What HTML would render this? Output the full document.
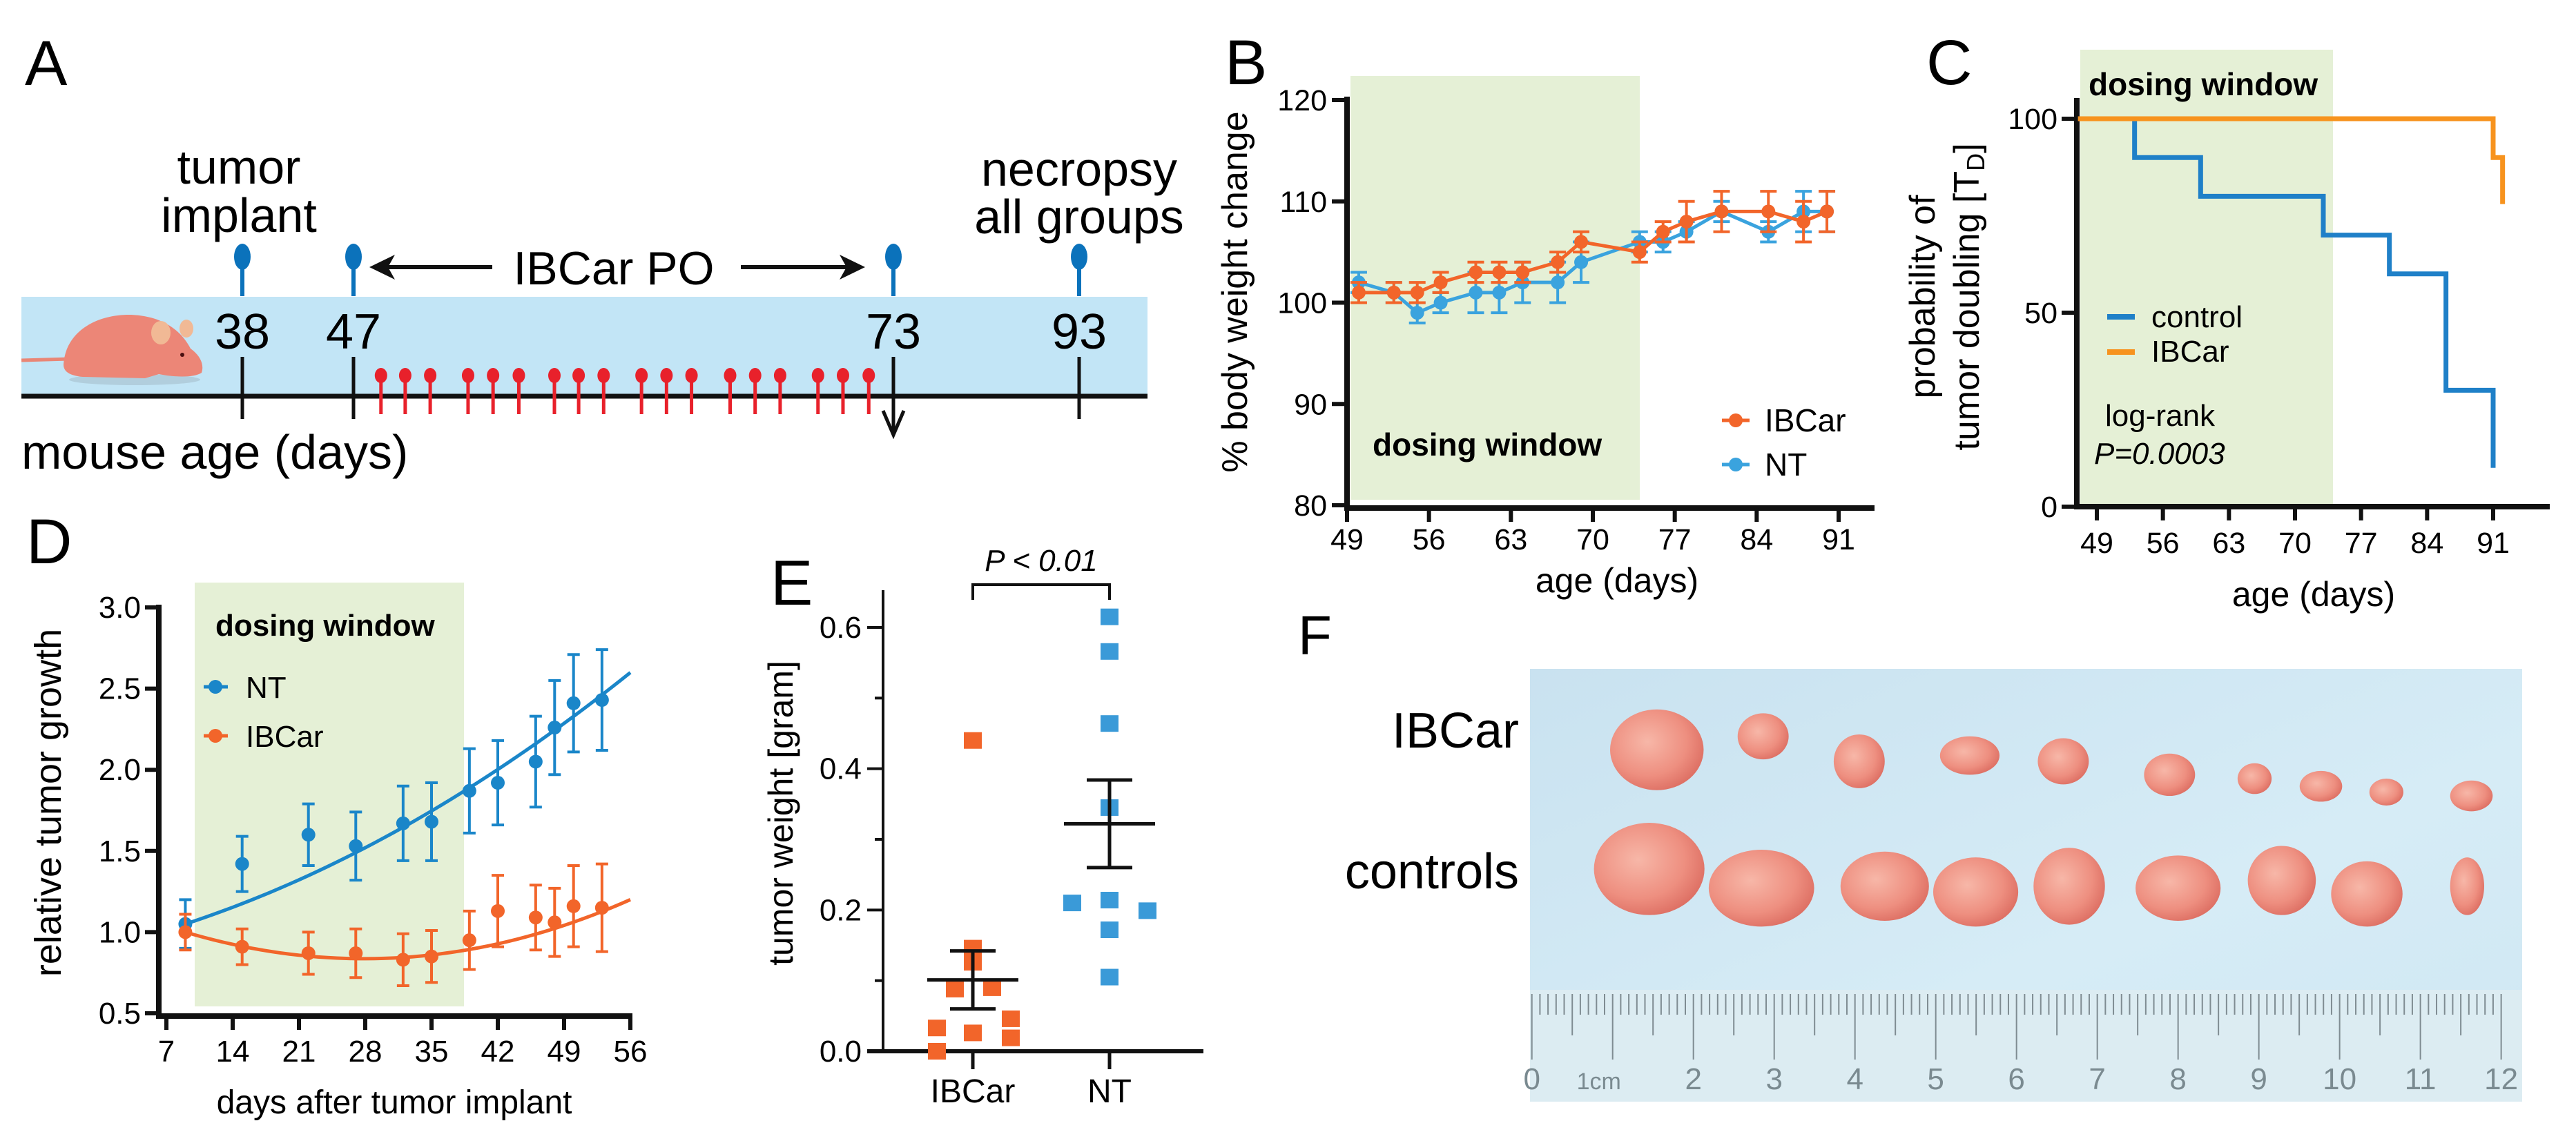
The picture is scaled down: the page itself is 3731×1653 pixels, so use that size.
<!DOCTYPE html>
<html><head><meta charset="utf-8"><style>
html,body{margin:0;padding:0;background:#fff;}
svg{display:block;font-family:"Liberation Sans",Arial,sans-serif;}
</style></head><body>
<svg id="fig" xmlns="http://www.w3.org/2000/svg" width="3731" height="1653" viewBox="0 0 3731 1653">
<defs>
<linearGradient id="photoBg" x1="0" y1="0" x2="1" y2="1"><stop offset="0" stop-color="#c9e2f0"/><stop offset="0.6" stop-color="#d6ecf6"/><stop offset="1" stop-color="#cfe7f3"/></linearGradient>
<radialGradient id="tum" cx="0.4" cy="0.4" r="0.7"><stop offset="0" stop-color="#f7b7a8"/><stop offset="0.6" stop-color="#ee8f80"/><stop offset="1" stop-color="#d9675c"/></radialGradient>
</defs>
<rect width="3731" height="1653" fill="#fff"/>

<g>
<text x="36" y="123" font-size="92">A</text>
<rect x="31" y="430" width="1631" height="144" fill="#c2e5f6"/>
<g>
<path d="M31 522 L100 520" stroke="#e98676" stroke-width="5"/>
<ellipse cx="195" cy="550" rx="95" ry="8" fill="#9fb7c4" opacity="0.5"/>
<path d="M92 528 C95 480 140 455 190 456 C235 458 262 478 276 505 C290 515 296 528 292 540 C280 548 250 546 230 542 L210 548 L120 546 C100 544 92 538 92 528 Z" fill="#ec8677"/>
<ellipse cx="233" cy="482" rx="14" ry="17" fill="#f1b995"/>
<ellipse cx="270" cy="476" rx="10" ry="13" fill="#f1b995"/>
<circle cx="264" cy="514" r="3" fill="#4a1010"/>
</g>
<line x1="31" y1="574" x2="1662" y2="574" stroke="#111" stroke-width="7"/>
<g id="aMarks"></g>
<text x="346" y="266" font-size="70" text-anchor="middle">tumor</text>
<text x="346" y="336" font-size="70" text-anchor="middle">implant</text>
<text x="1563" y="269" font-size="70" text-anchor="middle">necropsy</text>
<text x="1563" y="338" font-size="70" text-anchor="middle">all groups</text>
<text x="889" y="412" font-size="68" text-anchor="middle">IBCar PO</text>
<line x1="548" y1="387" x2="713" y2="387" stroke="#111" stroke-width="6"/>
<path d="M535 387 L572 369 L562 387 L572 405 Z" fill="#111"/>
<line x1="1073" y1="387" x2="1238" y2="387" stroke="#111" stroke-width="6"/>
<path d="M1253 387 L1216 369 L1226 387 L1216 405 Z" fill="#111"/>
<text x="31" y="679" font-size="70">mouse age (days)</text>
</g>

<g id="panelB">
<text x="1774" y="122" font-size="92">B</text>
<rect x="1956" y="110" width="419" height="614" fill="#e5f0d6"/>
<text x="1988" y="660" font-size="46" font-weight="bold">dosing window</text>
<text transform="translate(1806,423) rotate(-90)" font-size="52" text-anchor="middle">% body weight change</text>
<text x="2342" y="858" font-size="50" text-anchor="middle">age (days)</text>
</g>

<g id="panelC">
<text x="2790" y="122" font-size="92">C</text>
<rect x="3013" y="72" width="366" height="660" fill="#e5f0d6"/>
<text x="3025" y="138" font-size="46" font-weight="bold">dosing window</text>
<text transform="translate(2802,430) rotate(-90)" font-size="52" text-anchor="middle">probability of</text>
<text transform="translate(2866,430) rotate(-90)" font-size="52" text-anchor="middle">tumor doubling [T<tspan font-size="36" dy="8">D</tspan><tspan dy="-8">]</tspan></text>
<text x="3351" y="878" font-size="50" text-anchor="middle">age (days)</text>
<line x1="3052" y1="459" x2="3092" y2="459" stroke="#1f80c8" stroke-width="8"/>
<text x="3116" y="474" font-size="44">control</text>
<line x1="3052" y1="510" x2="3092" y2="510" stroke="#f7931e" stroke-width="8"/>
<text x="3116" y="524" font-size="44">IBCar</text>
<text x="3049" y="617" font-size="44">log-rank</text>
<text x="3033" y="672" font-size="44" font-style="italic">P=0.0003</text>
</g>

<g id="panelD">
<text x="38" y="816" font-size="92">D</text>
<rect x="282" y="844" width="390" height="614" fill="#e5f0d6"/>
<text x="312" y="921" font-size="44" font-weight="bold">dosing window</text>
<text transform="translate(88,1163) rotate(-90)" font-size="54" text-anchor="middle">relative tumor growth</text>
<text x="571" y="1613" font-size="48" text-anchor="middle">days after tumor implant</text>
<text x="356" y="1011" font-size="44">NT</text>
<text x="356" y="1082" font-size="44">IBCar</text>
</g>

<g id="panelE">
<text x="1116" y="876" font-size="92">E</text>
<text transform="translate(1148,1178) rotate(-90)" font-size="50" text-anchor="middle">tumor weight [gram]</text>
<path d="M1409 869 L1409 847 L1607 847 L1607 869" fill="none" stroke="#111" stroke-width="4"/>
<text x="1508" y="827" font-size="44" font-style="italic" text-anchor="middle">P &lt; 0.01</text>
</g>

<g id="panelF">
<text x="1880" y="948" font-size="80">F</text>
<text x="2200" y="1083" font-size="72" text-anchor="end">IBCar</text>
<text x="2200" y="1287" font-size="72" text-anchor="end">controls</text>
<rect x="2216" y="969" width="1437" height="627" fill="url(#photoBg)"/>
<rect x="2216" y="1434" width="1437" height="162" fill="#dcecf2"/>
<g id="tumors"></g>
<g id="ruler"></g>
</g>
</svg>
<script>
// ---------- DATA ----------
const aEventDays = [38, 47, 73, 93];
const aEventX = [351, 512, 1294, 1563];
const bDays = [50,53,55,57,60,62,64,67,69,74,76,78,81,85,88,90];
const bIBCar = [101,101,101,102,103,103,103,104,106,105,107,108,109,109,108,109];
const bIBCarErr = [1,1,1,1,1,1,1,1,1,1,1,2,2,2,2,2];
const bNT = [102,101,99,100,101,101,102,102,104,106,106,107,109,107,109,109];
const bNTErr = [1,1,1,1,2,2,2,2,2,1,1,1,1,1,2,2];
const bYTicks = [80,90,100,110,120];
const bXTicks = [49,56,63,70,77,84,91];
const cCtrlT = [47,53,60,73,80,86,91];
const cCtrlV = [100,90,80,70,60,30,10];
const cIbT = [47,91,92];
const cIbV = [100,90,78];
const cYTicks = [0,50,100];
const cXTicks = [49,56,63,70,77,84,91];
const dDays = [9,15,22,27,32,35,39,42,46,48,50,53];
const dNT = [1.05,1.42,1.60,1.53,1.67,1.68,1.87,1.92,2.05,2.26,2.41,2.43];
const dNTErr = [0.15,0.17,0.19,0.21,0.23,0.24,0.26,0.26,0.28,0.29,0.30,0.31];
const dIBCar = [1.00,0.91,0.87,0.87,0.83,0.85,0.95,1.13,1.09,1.06,1.16,1.15];
const dIBCarErr = [0.11,0.11,0.13,0.15,0.16,0.16,0.18,0.22,0.20,0.21,0.25,0.27];
const dNTFit = [0.9015, 0.01385, 0.000294];
const dIBCarFit = [1.1935, -0.02564, 0.00046];
const dYTicks = [0.5,1.0,1.5,2.0,2.5,3.0];
const dXTicks = [7,14,21,28,35,42,49,56];
const eCategories = ['IBCar','NT'];
const eIBCar = [0.44,0.146,0.126,0.088,0.09,0.033,0.026,0.046,0.019,0.0];
const eIBCarJitter = [0,0,0,-26,28,-52,0,55,55,-52];
const eNT = [0.615,0.566,0.464,0.345,0.21,0.214,0.199,0.172,0.105];
const eNTJitter = [0,0,0,0,-54,0,55,0,0];
const eMean = [0.101,0.322];
const eSEM = [0.041,0.062];
const eYTicks = [0,0.2,0.4,0.6];
const eMinorTicks = [0.1,0.3,0.5];

const NS = 'http://www.w3.org/2000/svg';
function mk(parent, tag, attrs, text){
  const el = document.createElementNS(NS, tag);
  for (const k in attrs) el.setAttribute(k, attrs[k]);
  if (text !== undefined) el.textContent = text;
  parent.appendChild(el);
  return el;
}

(function(){
  const g = document.getElementById('aMarks');
  aEventDays.forEach((d,i)=>{
    const x = aEventX[i];
    let el = mk(g,'line',{x1:x,y1:378,x2:x,y2:429,stroke:'#0b72bb','stroke-width':6});
    
    
    el = mk(g,'ellipse',{cx:x,cy:372,rx:12,ry:19,fill:'#0b72bb'});
    
    
    el = mk(g,'line',{x1:x,y1:517,x2:x,y2:607,stroke:'#111','stroke-width':5});
    
    
    el = mk(g,'text',{x:x,y:505,'font-size':72,'text-anchor':'middle'}, String(d));
    
    
  });
  let ar = mk(g,'path',{d:'M1294 600 L1294 625 M1279 595 L1294 630 L1309 595',stroke:'#111','stroke-width':5,fill:'none'});
  
  
  const groups = [503,535,568,618,651,685,732,764,797,847,880,913,964,997,1030,1080,1113,1147];
  groups.forEach(px=>{
    const x = px*1.097;
    let el = mk(g,'line',{x1:x,y1:548,x2:x,y2:600,stroke:'#e8212b','stroke-width':5});
    
    
    el = mk(g,'ellipse',{cx:x,cy:544,rx:9,ry:11,fill:'#e8212b'});
    
    
  });
})();

(function(){
  const g = document.getElementById('panelB');
  const x = d => 1951 + (d-49)*(2663-1951)/42;
  const y = v => 732 - (v-80)*(732-145)/40;
  let el = mk(g,'path',{d:'M1951 140 L1951 736 L2715 736',fill:'none',stroke:'#111','stroke-width':8});
  
  
  bYTicks.forEach(v=>{
    let t = mk(g,'line',{x1:1929,y1:y(v),x2:1951,y2:y(v),stroke:'#111','stroke-width':6});
    
    
    t = mk(g,'text',{x:1922,y:y(v)+15,'font-size':43,'text-anchor':'end'},String(v));
    
    
  });
  bXTicks.forEach(d=>{
    let t = mk(g,'line',{x1:x(d),y1:736,x2:x(d),y2:756,stroke:'#111','stroke-width':6});
    
    
    t = mk(g,'text',{x:x(d),y:796,'font-size':43,'text-anchor':'middle'},String(d));
    
    
  });
  function series(vals, errs, color, name){
    const pts = bDays.map((d,i)=>x(d)+','+y(vals[i])).join(' ');
    let l = mk(g,'polyline',{points:pts,fill:'none',stroke:color,'stroke-width':5});
    
    
    bDays.forEach((d,i)=>{
      const cx = x(d), y1 = y(vals[i]+errs[i]), y2 = y(vals[i]-errs[i]);
      let e = mk(g,'path',{d:`M${cx} ${y1} L${cx} ${y2} M${cx-12} ${y1} L${cx+12} ${y1} M${cx-12} ${y2} L${cx+12} ${y2}`,stroke:color,'stroke-width':4,fill:'none'});
      
      
      e = mk(g,'circle',{cx:cx,cy:y(vals[i]),r:10,fill:color});
      
      
    });
  }
  series(bNT,bNTErr,'#3aa3de','b-nt');
  series(bIBCar,bIBCarErr,'#f2652a','b-ibcar');
  [['#f2652a','IBCar',609],['#3aa3de','NT',673]].forEach(([c,lab,yy])=>{
    let e = mk(g,'line',{x1:2494,y1:yy,x2:2534,y2:yy,stroke:c,'stroke-width':5});
    
    
    e = mk(g,'circle',{cx:2514,cy:yy,r:10,fill:c});
    
    
    e = mk(g,'text',{x:2556,y:yy+16,'font-size':46},lab);
    
    
  });
})();

(function(){
  const g = document.getElementById('panelC');
  const x = d => 3037 + (d-49)*(3611-3037)/42;
  const y = v => 734 - v*(734-172)/100;
  let el = mk(g,'path',{d:'M3008 142 L3008 734 L3693 734',fill:'none',stroke:'#111','stroke-width':8});
  
  
  cYTicks.forEach(v=>{
    let t = mk(g,'line',{x1:2986,y1:y(v),x2:3008,y2:y(v),stroke:'#111','stroke-width':6});
    
    
    t = mk(g,'text',{x:2980,y:y(v)+15,'font-size':43,'text-anchor':'end'},String(v));
    
    
  });
  cXTicks.forEach(d=>{
    let t = mk(g,'line',{x1:x(d),y1:734,x2:x(d),y2:754,stroke:'#111','stroke-width':6});
    
    
    t = mk(g,'text',{x:x(d),y:801,'font-size':43,'text-anchor':'middle'},String(d));
    
    
  });
  function step(T,V,color,name){
    let d = `M${x(T[0])} ${y(V[0])}`;
    for (let i=1;i<T.length;i++){ d += ` L${x(T[i])} ${y(V[i-1])} L${x(T[i])} ${y(V[i])}`; }
    const p = mk(g,'path',{d:d,fill:'none',stroke:color,'stroke-width':7});
    
    
  }
  step(cCtrlT,cCtrlV,'#1f80c8','c-control-curve');
  step(cIbT,cIbV,'#f7931e','c-ibcar-curve');
})();

(function(){
  const g = document.getElementById('panelD');
  const x = d => 241 + (d-7)*(913-241)/49;
  const y = v => 1468 - (v-0.5)*(1468-880)/2.5;
  let el = mk(g,'path',{d:'M230 876 L230 1472 L916 1472',fill:'none',stroke:'#111','stroke-width':8});
  
  
  dYTicks.forEach(v=>{
    let t = mk(g,'line',{x1:210,y1:y(v),x2:230,y2:y(v),stroke:'#111','stroke-width':6});
    
    
    t = mk(g,'text',{x:204,y:y(v)+15,'font-size':44,'text-anchor':'end'},v.toFixed(1));
    
    
  });
  dXTicks.forEach(d=>{
    let t = mk(g,'line',{x1:x(d),y1:1472,x2:x(d),y2:1492,stroke:'#111','stroke-width':6});
    
    
    t = mk(g,'text',{x:x(d),y:1538,'font-size':44,'text-anchor':'middle'},String(d));
    
    
  });
  function fit(c,color,name){
    const pts=[];
    for(let d=9; d<=56.01; d+=1){ pts.push(x(d)+','+y(c[0]+c[1]*d+c[2]*d*d)); }
    const p = mk(g,'polyline',{points:pts.join(' '),fill:'none',stroke:color,'stroke-width':5});
    
    
  }
  function pts(vals,errs,color,name){
    dDays.forEach((d,i)=>{
      const cx=x(d), y1=y(vals[i]+errs[i]), y2=y(vals[i]-errs[i]);
      let e = mk(g,'path',{d:`M${cx} ${y1} L${cx} ${y2} M${cx-9} ${y1} L${cx+9} ${y1} M${cx-9} ${y2} L${cx+9} ${y2}`,stroke:color,'stroke-width':4,fill:'none'});
      
      
      e = mk(g,'circle',{cx:cx,cy:y(vals[i]),r:10,fill:color});
      
      
    });
  }
  fit(dNTFit,'#1a86c9','d-nt-fit');
  fit(dIBCarFit,'#f2652a','d-ibcar-fit');
  pts(dNT,dNTErr,'#1a86c9','d-nt');
  pts(dIBCar,dIBCarErr,'#f2652a','d-ibcar');
  [['#1a86c9',995],['#f2652a',1066]].forEach(([c,yy])=>{
    let e = mk(g,'line',{x1:295,y1:yy,x2:330,y2:yy,stroke:c,'stroke-width':5});
    
    
    e = mk(g,'circle',{cx:312,cy:yy,r:10,fill:c});
    
    
  });
})();

(function(){
  const g = document.getElementById('panelE');
  const y = v => 1523 - v*(1523-909)/0.6;
  const cx = [1409,1607];
  let el = mk(g,'line',{x1:1279,y1:855,x2:1279,y2:1523,stroke:'#111','stroke-width':4});
  
  
  el = mk(g,'line',{x1:1256,y1:1523,x2:1743,y2:1523,stroke:'#111','stroke-width':6});
  
  
  eYTicks.forEach(v=>{
    let t = mk(g,'line',{x1:1256,y1:y(v),x2:1279,y2:y(v),stroke:'#111','stroke-width':4});
    
    
    t = mk(g,'text',{x:1248,y:y(v)+15,'font-size':44,'text-anchor':'end'},v.toFixed(1));
    
    
  });
  eMinorTicks.forEach(v=>{
    const t = mk(g,'line',{x1:1267,y1:y(v),x2:1279,y2:y(v),stroke:'#111','stroke-width':4});
    
    
  });
  eCategories.forEach((c,i)=>{
    let t = mk(g,'line',{x1:cx[i],y1:1523,x2:cx[i],y2:1549,stroke:'#111','stroke-width':5});
    
    
    t = mk(g,'text',{x:cx[i],y:1597,'font-size':48,'text-anchor':'middle'},c);
    
    
  });
  function squares(vals,jit,ci,color,name){
    vals.forEach((v,i)=>{
      const s = mk(g,'rect',{x:cx[ci]+jit[i]-13,y:y(v)-12,width:26,height:24,fill:color});
      
      
    });
  }
  squares(eIBCar,eIBCarJitter,0,'#f2652a','e-ibcar-point');
  squares(eNT,eNTJitter,1,'#3a9ad8','e-nt-point');
  eMean.forEach((m,i)=>{
    const c=cx[i], yt=y(m+eSEM[i]), yb=y(m-eSEM[i]);
    const p = mk(g,'path',{d:`M${c-66} ${y(m)} L${c+66} ${y(m)} M${c} ${yt} L${c} ${yb} M${c-33} ${yt} L${c+33} ${yt} M${c-33} ${yb} L${c+33} ${yb}`,stroke:'#111','stroke-width':5,fill:'none'});
    
    
  });
})();

(function(){
  const g = document.getElementById('tumors');
  const top = [[487,550,55,105],[612,515,30,60],[725,580,30,70],[855,565,35,50],[965,580,30,60],[1090,615,30,55],[1190,625,20,40],[1268,645,25,40],[1345,660,20,35],[1445,670,25,40]];
  const bot = [[478,860,65,120],[610,910,62,100],[755,905,52,90],[862,920,50,90],[972,905,42,100],[1100,910,50,85],[1222,890,40,90],[1322,925,42,85],[1440,905,20,75]];
  top.concat(bot).forEach(t=>{
    const e = mk(g,'ellipse',{cx:1800+t[0]*1.2315,cy:780+t[1]*0.5568,rx:t[2]*1.2315,ry:t[3]*0.5568,fill:'url(#tum)'});
    
    
  });
  const r = document.getElementById('ruler');
  const x0 = 1800+340*1.2315, x12 = 1800+1480*1.2315;
  for(let i=0;i<=120;i++){
    const xx = x0 + i*(x12-x0)/120;
    const len = i%10===0 ? 95 : (i%5===0 ? 60 : 30);
    const tk = mk(r,'line',{x1:xx,y1:1440,x2:xx,y2:1440+len,stroke:'#7f8c92','stroke-width':2});
    
    
  }
  const labels = ['0','1cm','2','3','4','5','6','7','8','9','10','11','12'];
  labels.forEach((l,i)=>{
    const xx = x0 + i*(x12-x0)/12 + (i===1?-20:0);
    const t = mk(r,'text',{x:xx,y:1578,'font-size':i===1?34:44,'text-anchor':'middle',fill:'#7a8a90'},l);
    
    
  });
})();
</script>
</body></html>
